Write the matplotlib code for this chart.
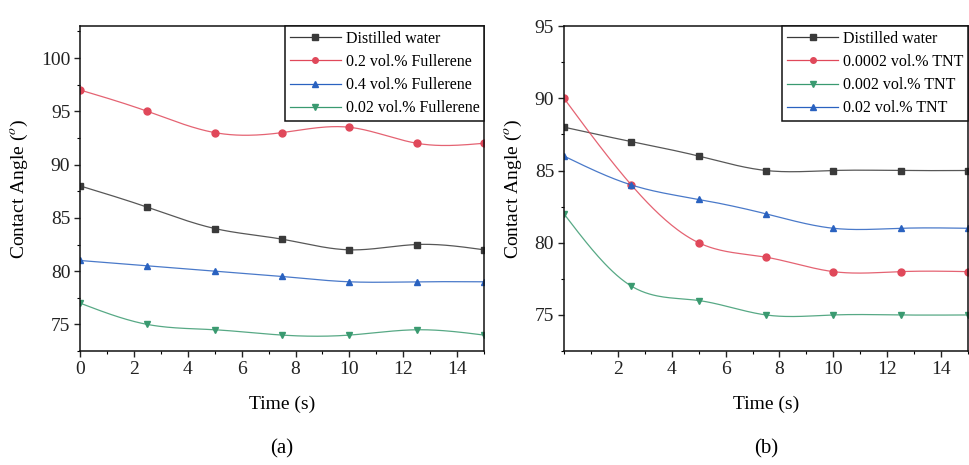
import numpy as np
import matplotlib.pyplot as plt
from matplotlib.ticker import MultipleLocator

plt.rcParams['font.family'] = ['Liberation Serif', 'DejaVu Serif']
plt.rcParams['mathtext.fontset'] = 'stix'

# contact angle readings every 2.5 s
time_s = [0, 2.5, 5, 7.5, 10, 12.5, 15]

# (a) fullerene nanofluids
water_a = [88, 86, 84, 83, 82, 82.5, 82]
fuller_02 = [97, 95, 93, 93, 93.5, 92, 92]
fuller_04 = [81, 80.5, 80, 79.5, 79, 79, 79]
fuller_002 = [77, 75, 74.5, 74, 74, 74.5, 74]

# (b) TNT nanofluids
water_b = [88, 87, 86, 85, 85, 85, 85]
tnt_00002 = [90, 84, 80, 79, 78, 78, 78]
tnt_0002 = [82, 77, 76, 75, 75, 75, 75]
tnt_002 = [86, 84, 83, 82, 81, 81, 81]

BLACK = '#3a3a3a'
RED = '#e0485a'
BLUE = '#2a62c0'
GREEN = '#3a9a70'


def smooth(x, y, n=200):
    # natural cubic spline through the measured points
    x = np.asarray(x, float)
    y = np.asarray(y, float)
    k = len(x)
    h = np.diff(x)
    A = np.zeros((k, k))
    b = np.zeros(k)
    A[0, 0] = A[-1, -1] = 1
    for i in range(1, k - 1):
        A[i, i - 1] = h[i - 1]
        A[i, i] = 2 * (h[i - 1] + h[i])
        A[i, i + 1] = h[i]
        b[i] = 6 * ((y[i + 1] - y[i]) / h[i] - (y[i] - y[i - 1]) / h[i - 1])
    M = np.linalg.solve(A, b)
    xs = np.linspace(x[0], x[-1], n)
    j = np.clip(np.searchsorted(x, xs) - 1, 0, k - 2)
    t0 = x[j + 1] - xs
    t1 = xs - x[j]
    hj = h[j]
    ys = (M[j] * t0**3 + M[j + 1] * t1**3) / (6 * hj) \
        + (y[j] / hj - M[j] * hj / 6) * t0 + (y[j + 1] / hj - M[j + 1] * hj / 6) * t1
    return xs, ys


def draw(ax, y, color, marker, label):
    xs, ys = smooth(time_s, y)
    ax.plot(xs, ys, color=color, lw=0.9, alpha=0.85)
    ax.plot(time_s, y, linestyle='none', marker=marker, color=color, ms=5)
    ax.plot([], [], color=color, lw=0.9, marker=marker, ms=4, label=label)


fig = plt.figure(figsize=(9.69, 4.65), dpi=100)
ax1 = fig.add_axes([0.0826, 0.245, 0.417, 0.699])
ax2 = fig.add_axes([0.582, 0.245, 0.417, 0.699])

draw(ax1, water_a, BLACK, 's', 'Distilled water')
draw(ax1, fuller_02, RED, 'o', '0.2 vol.% Fullerene')
draw(ax1, fuller_04, BLUE, '^', '0.4 vol.% Fullerene')
draw(ax1, fuller_002, GREEN, 'v', '0.02 vol.% Fullerene')

draw(ax2, water_b, BLACK, 's', 'Distilled water')
draw(ax2, tnt_00002, RED, 'o', '0.0002 vol.% TNT')
draw(ax2, tnt_0002, GREEN, 'v', '0.002 vol.% TNT')
draw(ax2, tnt_002, BLUE, '^', '0.02 vol.% TNT')

ax1.set_xlim(0, 15)
ax1.set_ylim(72.5, 103)
ax1.set_xticks(range(0, 15, 2))
ax1.set_yticks(range(75, 101, 5))

ax2.set_xlim(0, 15)
ax2.set_ylim(72.5, 95)
ax2.set_xticks(range(2, 15, 2))
ax2.set_yticks(range(75, 96, 5))

for ax, lab in ((ax1, '(a)'), (ax2, '(b)')):
    ax.xaxis.set_minor_locator(MultipleLocator(1))
    ax.yaxis.set_minor_locator(MultipleLocator(2.5))
    ax.tick_params(which='major', direction='out', length=4, width=1,
                   labelsize=14, colors='#222222', pad=3)
    ax.tick_params(which='minor', direction='out', length=2.5, width=0.8)
    for s in ax.spines.values():
        s.set_linewidth(1.1)
        s.set_color('#111111')
    ax.set_xlabel('Time (s)', fontsize=14, labelpad=13)
    ax.set_ylabel('Contact Angle ($^o$)', fontsize=14, labelpad=8)
    ax.text(0.5, -0.27, lab, transform=ax.transAxes, ha='center', va='top',
            fontsize=15)
    leg = ax.legend(loc='upper right', borderaxespad=0, fontsize=11.5,
                    handlelength=3.2, handletextpad=0.3, labelspacing=0.45,
                    borderpad=0.3, fancybox=False, framealpha=1,
                    edgecolor='#111111')
    leg.get_frame().set_linewidth(1.1)

fig.savefig('out.png', dpi=100)
